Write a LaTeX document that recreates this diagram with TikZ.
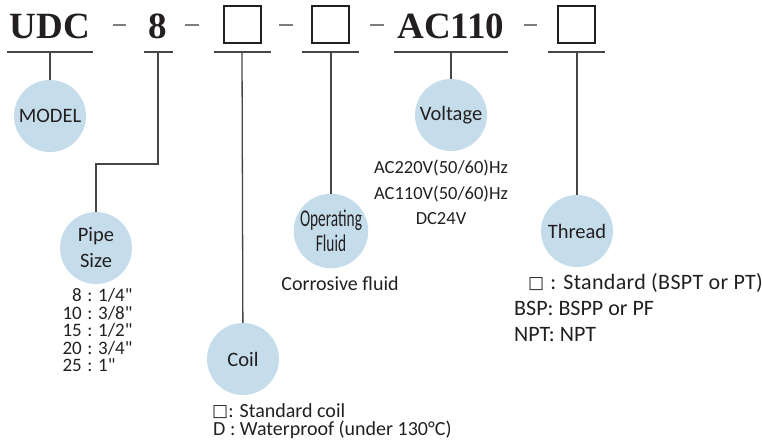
\documentclass[tikz,border=0pt]{standalone}
\usepackage{fontspec}
\setmainfont{Carlito}
\newfontfamily\titlefont{Liberation Serif}
\newfontfamily\condfont[FakeStretch=0.64]{Carlito}
\newfontfamily\plainfont[Ligatures=TeXOff]{Carlito}
\newfontfamily\symfont{DejaVu Sans}
\newcommand\sqglyph{\raisebox{0.5pt}{\symfont\fontsize{17}{17}\selectfont □}}
\definecolor{bubble}{RGB}{197,221,235}
\definecolor{ink}{RGB}{35,31,32}
\definecolor{wire}{RGB}{70,70,70}
\begin{document}
\begin{tikzpicture}[x=1pt,y=-1pt,
  title/.style={font=\titlefont\bfseries\fontsize{37}{37}\selectfont,text=ink,inner sep=0pt,anchor=base},
  slot/.style={draw=ink,line width=2pt},
  sep/.style={draw=wire!70,line width=1.2pt},
  uline/.style={draw=wire,line width=1.5pt},
  wireln/.style={draw=wire,line width=1.3pt},
  bub/.style={circle,fill=bubble,minimum size=72pt,inner sep=0pt,text=ink,font=\fontsize{20.5}{26}\selectfont,align=center},
  lbl/.style={text=ink,inner sep=0pt,font=\fontsize{20}{24}\selectfont},
  tlbl/.style={text=ink,inner sep=0pt,font=\fontsize{22}{24}\selectfont,anchor=base west},
  vlbl/.style={text=ink,inner sep=0pt,font=\fontsize{18.5}{22}\selectfont,anchor=base},
  plbl/.style={text=ink,inner sep=0pt,font=\plainfont\fontsize{19}{22}\selectfont},
]
\useasboundingbox (0,0) rectangle (762,444);
% title row
\node[title] (udc) at (50,38) {UDC};
\node[title] (eight) at (157.5,38) {8};
\node[title] (ac) at (451,38) {AC110};
\node[slot,minimum size=37pt,inner sep=0pt] (box1) at (242.5,24.5) {};
\node[slot,minimum size=37pt,inner sep=0pt] (box2) at (330.5,24.5) {};
\node[slot,minimum size=37pt,inner sep=0pt] (box3) at (576,24.5) {};
\coordinate (d1a) at (113,25); \coordinate (d1b) at (126,25);
\coordinate (d2a) at (185,25); \coordinate (d2b) at (199,25);
\coordinate (d3a) at (279,25); \coordinate (d3b) at (293,25);
\coordinate (d4a) at (370,25); \coordinate (d4b) at (384,25);
\coordinate (d5a) at (524,25); \coordinate (d5b) at (537,25);
\draw[sep] (d1a) -- (d1b); \draw[sep] (d2a) -- (d2b); \draw[sep] (d3a) -- (d3b);
\draw[sep] (d4a) -- (d4b); \draw[sep] (d5a) -- (d5b);
% underlines
\coordinate (l1a) at (7,52); \coordinate (l1b) at (93,52);
\coordinate (l2a) at (144,52); \coordinate (l2b) at (173,52);
\coordinate (l3a) at (214,52); \coordinate (l3b) at (271,52);
\coordinate (l4a) at (302,52); \coordinate (l4b) at (359,52);
\coordinate (l5a) at (394,52); \coordinate (l5b) at (508,52);
\coordinate (l6a) at (548,52); \coordinate (l6b) at (605,52);
\draw[uline] (l1a) -- (l1b); \draw[uline] (l2a) -- (l2b); \draw[uline] (l3a) -- (l3b);
\draw[uline] (l4a) -- (l4b); \draw[uline] (l5a) -- (l5b); \draw[uline] (l6a) -- (l6b);
\coordinate (u1) at (50,52);
\coordinate (u2) at (158,52);
\coordinate (u3) at (242,52);
\coordinate (u4) at (331,52);
\coordinate (u5) at (451,52);
\coordinate (u6) at (577,52);
\coordinate (bend) at (158,164);
% bubbles
\node[bub] (model) at (50,116) {MODEL};
\node[bub] (pipe) at (96,248) {Pipe\\Size};
\node[bub] (coil) at (243,359) {Coil};
\node[bub,font=\condfont\fontsize{24}{25}\selectfont] (fluid) at (331,231) {Operating\\Fluid};
\node[bub] (volt) at (451,115) {Voltage};
\node[bub] (thread) at (577,231) {Thread};
% connectors
\draw[wireln] (u1) -- (model);
\draw[wireln] (u2) -- (bend) -| (pipe);
\draw[wireln] (u3) -- (coil);
\draw[wireln] (u4) -- (fluid);
\draw[wireln] (u5) -- (volt);
\draw[wireln] (u6) -- (thread);
% pipe sizes
\foreach \n/\v/\f [count=\i] in {8/a/{1/4"},10/b/{3/8"},15/c/{1/2"},20/d/{3/4"},25/e/{1"}}{
  \node[plbl,anchor=base east] (pn\v) at (82,{295+6.5+(\i-1)*17.5}) {\n};
  \node[plbl,anchor=base] (pc\v) at (90,{295+6.5+(\i-1)*17.5}) {:};
  \node[plbl,anchor=base west] (pf\v) at (98,{295+6.5+(\i-1)*17.5}) {\f};
}
% coil options
\node[lbl,anchor=base west] (coil1) at (212,417) {\sqglyph: Standard coil};
\node[lbl,anchor=base west] (coil2) at (213,435) {D : Waterproof (under 130°C)};
% fluid
\node[lbl,anchor=base] (corr) at (340,290) {Corrosive fluid};
% voltage
\node[vlbl] (v1) at (441,173) {AC220V(50/60)Hz};
\node[vlbl] (v2) at (441,199) {AC110V(50/60)Hz};
\node[vlbl] (v3) at (441,224) {DC24V};
% thread options
\node[tlbl] (t1) at (528,289) {\sqglyph\;{\addfontfeature{LetterSpace=1.5}: Standard (BSPT or PT)}};
\node[tlbl] (t2) at (514,315) {BSP: BSPP or PF};
\node[tlbl] (t3) at (514,341) {NPT: NPT};
\end{tikzpicture}
\end{document}
